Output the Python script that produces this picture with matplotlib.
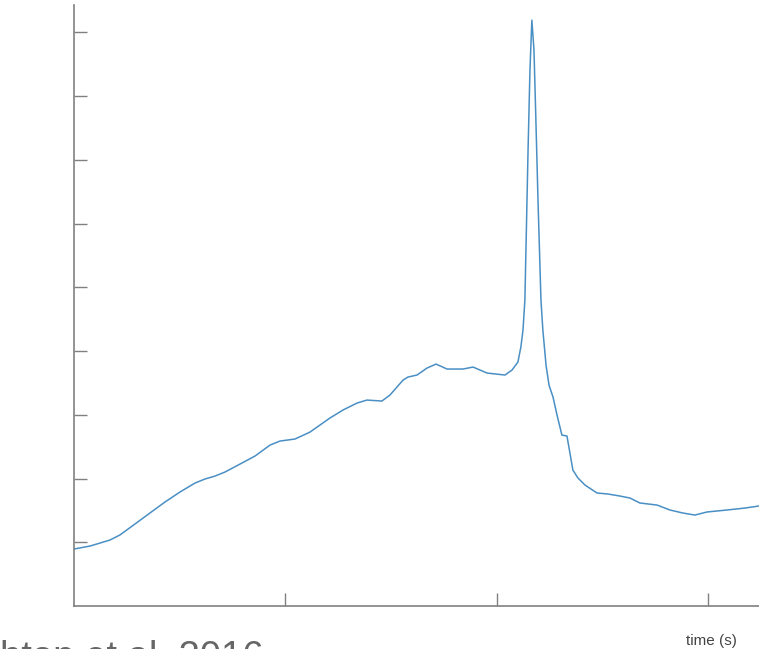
import matplotlib
matplotlib.use("Agg")
from matplotlib import pyplot as plt

# trace (arbitrary units, x ticks at 1,2,3 and y ticks at 1..9)
t = [0.000, 0.076, 0.170, 0.217, 0.288, 0.359, 0.430, 0.501, 0.572, 0.619,
     0.667, 0.714, 0.785, 0.856, 0.927, 0.974, 1.045, 1.116, 1.163, 1.210,
     1.272, 1.338, 1.385, 1.456, 1.494, 1.556, 1.579, 1.622, 1.669, 1.712,
     1.764, 1.839, 1.887, 1.953, 2.038, 2.071, 2.099, 2.113, 2.123, 2.132,
     2.137, 2.147, 2.156, 2.165, 2.175, 2.184, 2.194, 2.208, 2.217, 2.232,
     2.246, 2.265, 2.284, 2.307, 2.331, 2.345, 2.359, 2.383, 2.416, 2.473,
     2.525, 2.582, 2.629, 2.676, 2.757, 2.818, 2.879, 2.936, 2.993, 3.087,
     3.173, 3.239]
signal = [0.894, 0.941, 1.035, 1.114, 1.286, 1.459, 1.631, 1.788, 1.929, 1.992,
          2.039, 2.102, 2.227, 2.353, 2.525, 2.588, 2.620, 2.729, 2.839, 2.949,
          3.075, 3.184, 3.231, 3.216, 3.310, 3.545, 3.592, 3.624, 3.733, 3.796,
          3.718, 3.718, 3.749, 3.655, 3.624, 3.702, 3.827, 4.063, 4.329, 4.800,
          5.584, 7.153, 8.408, 9.192, 8.722, 7.624, 6.369, 4.800, 4.329, 3.780,
          3.467, 3.278, 2.996, 2.682, 2.667, 2.400, 2.133, 2.008, 1.898, 1.773,
          1.757, 1.725, 1.694, 1.616, 1.584, 1.506, 1.459, 1.427, 1.475, 1.506,
          1.537, 1.569]
xticks = [1, 2, 3]
yticks = [1, 2, 3, 4, 5, 6, 7, 8, 9]

fig = plt.figure(figsize=(7.59, 6.49), dpi=100)
ax = fig.add_axes([74/759, 43/649, 685/759, 601/649])

ax.plot(t, signal, color="#4a8fc4", lw=1.1)

ax.set_xlim(0, 3.239)
ax.set_ylim(0, 9.43)
ax.set_xticks(xticks)
ax.set_yticks(yticks)
ax.set_xticklabels([])
ax.set_yticklabels([])
ax.tick_params(direction="in", length=9.5, width=1.0, color="#808080")
for s in ["top", "right"]:
    ax.spines[s].set_visible(False)
for s in ["left", "bottom"]:
    ax.spines[s].set_color("#808080")
    ax.spines[s].set_linewidth(1.2)

fig.text(711/759, (649-645)/649, "time (s)", ha="center", va="baseline",
         fontsize=11, color="#444444", family="Liberation Sans")
# caption is cropped at the bottom edge in the original
fig.text(0.0, -19/649, "htop et al. 2016", ha="left", va="baseline",
         fontsize=27.5, color="#666666", family="Liberation Sans")

fig.savefig("out.png", dpi=100)
